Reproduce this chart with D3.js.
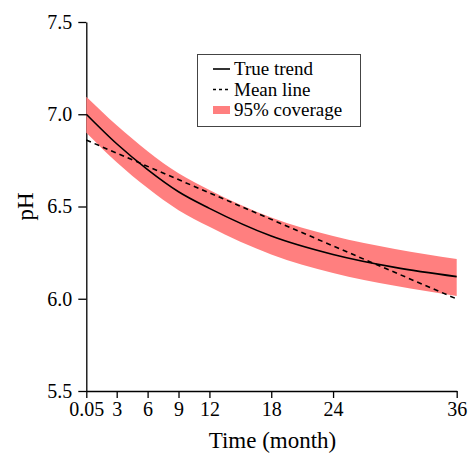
<!DOCTYPE html>
<html>
<head>
<meta charset="utf-8">
<script src="https://cdn.jsdelivr.net/npm/d3@7"></script>
<style>
  body { margin: 0; background: #fff; }
</style>
</head>
<body>
<div id="chart"></div>
<script>
// time points (months) and readings
var months = [0.05, 3, 6, 9, 12, 18, 24, 30, 36];
var trueTrend = [7.00, 6.84, 6.70, 6.58, 6.49, 6.34, 6.24, 6.17, 6.12];
var upper95 = [7.095, 6.94, 6.80, 6.68, 6.59, 6.44, 6.34, 6.27, 6.215];
var lower95 = [6.90, 6.74, 6.60, 6.48, 6.39, 6.24, 6.14, 6.07, 6.015];
var meanLine = [6.86, 5.999];   // at first and last month
var xTicks = [0.05, 3, 6, 9, 12, 18, 24, 36];
var yTicks = [5.5, 6.0, 6.5, 7.0, 7.5];
var legendLabels = ["True trend", "Mean line", "95% coverage"];

var serif = "'Liberation Serif', 'Times New Roman', Times, serif";
var W = 469, H = 453;
var svg = d3.select("#chart")
      .append("svg")
      .attr("width", W)
      .attr("height", H)
      .attr("font-family", serif);

var x = d3.scaleLinear().domain([0.05, 36]).range([86.3, 456.7]);
var y = d3.scaleLinear().domain([5.5, 7.5]).range([391, 22]);

// axes
svg.append("g")
  .attr("transform", "translate(0,391)")
  .call(d3.axisBottom(x).tickValues(xTicks)
    .tickFormat(function(d) { return d === 0.05 ? "0.05" : d3.format("d")(d); })
    .tickSize(7).tickSizeOuter(0).tickPadding(4))
  .attr("font-family", serif)
  .attr("font-size", 20);

svg.append("g")
  .attr("transform", "translate(86.3,0)")
  .call(d3.axisLeft(y).tickValues(yTicks).tickFormat(d3.format(".1f"))
    .tickSize(8).tickSizeOuter(0).tickPadding(6))
  .attr("font-family", serif)
  .attr("font-size", 20);

svg.selectAll(".domain").attr("stroke", "#000").attr("stroke-width", 1.3);
svg.selectAll(".tick line").attr("stroke", "#000").attr("stroke-width", 1.3);

// band
var rows = months.map(function(m, i) {
  return { t: m, v: trueTrend[i], lo: lower95[i], hi: upper95[i] };
});

svg.append("path")
  .datum(rows)
  .attr("fill", "#ff7f7f")
  .attr("d", d3.area()
    .x(function(d) { return x(d.t); })
    .y0(function(d) { return y(d.lo); })
    .y1(function(d) { return y(d.hi); })
    .curve(d3.curveMonotoneX));

// true trend
svg.append("path")
  .datum(rows)
  .attr("fill", "none")
  .attr("stroke", "#000")
  .attr("stroke-width", 1.6)
  .attr("d", d3.line()
    .x(function(d) { return x(d.t); })
    .y(function(d) { return y(d.v); })
    .curve(d3.curveMonotoneX));

// mean line
svg.append("path")
  .datum([{ t: months[0], v: meanLine[0] }, { t: months[months.length - 1], v: meanLine[1] }])
  .attr("fill", "none")
  .attr("stroke", "#000")
  .attr("stroke-width", 1.6)
  .attr("stroke-dasharray", "5,4")
  .attr("d", d3.line()
    .x(function(d) { return x(d.t); })
    .y(function(d) { return y(d.v); }));

// axis titles
svg.append("text")
  .attr("x", 272.5)
  .attr("y", 448)
  .attr("text-anchor", "middle")
  .attr("font-size", 23)
  .text("Time (month)");

svg.append("text")
  .attr("transform", "translate(33,206.5) rotate(-90)")
  .attr("text-anchor", "middle")
  .attr("font-size", 23)
  .text("pH");

// legend
var leg = svg.append("g");
leg.append("rect")
  .attr("x", 197.5).attr("y", 54.5)
  .attr("width", 163).attr("height", 72)
  .attr("fill", "#fff")
  .attr("stroke", "#444")
  .attr("stroke-width", 1);

legendLabels.forEach(function(lab, i) {
  var cy = 69 + i * 20.5;
  if (i === 0) {
    leg.append("line").attr("x1", 213).attr("x2", 230).attr("y1", cy).attr("y2", cy)
      .attr("stroke", "#000").attr("stroke-width", 1.6);
  } else if (i === 1) {
    leg.append("line").attr("x1", 213).attr("x2", 230).attr("y1", cy).attr("y2", cy)
      .attr("stroke", "#000").attr("stroke-width", 1.6).attr("stroke-dasharray", "3,3");
  } else {
    leg.append("rect").attr("x", 213).attr("y", cy - 4).attr("width", 17).attr("height", 8)
      .attr("fill", "#ff7f7f");
  }
  leg.append("text")
    .attr("x", 234)
    .attr("y", cy + 6)
    .attr("font-size", 19)
    .text(lab);
});
</script>
</body>
</html>
